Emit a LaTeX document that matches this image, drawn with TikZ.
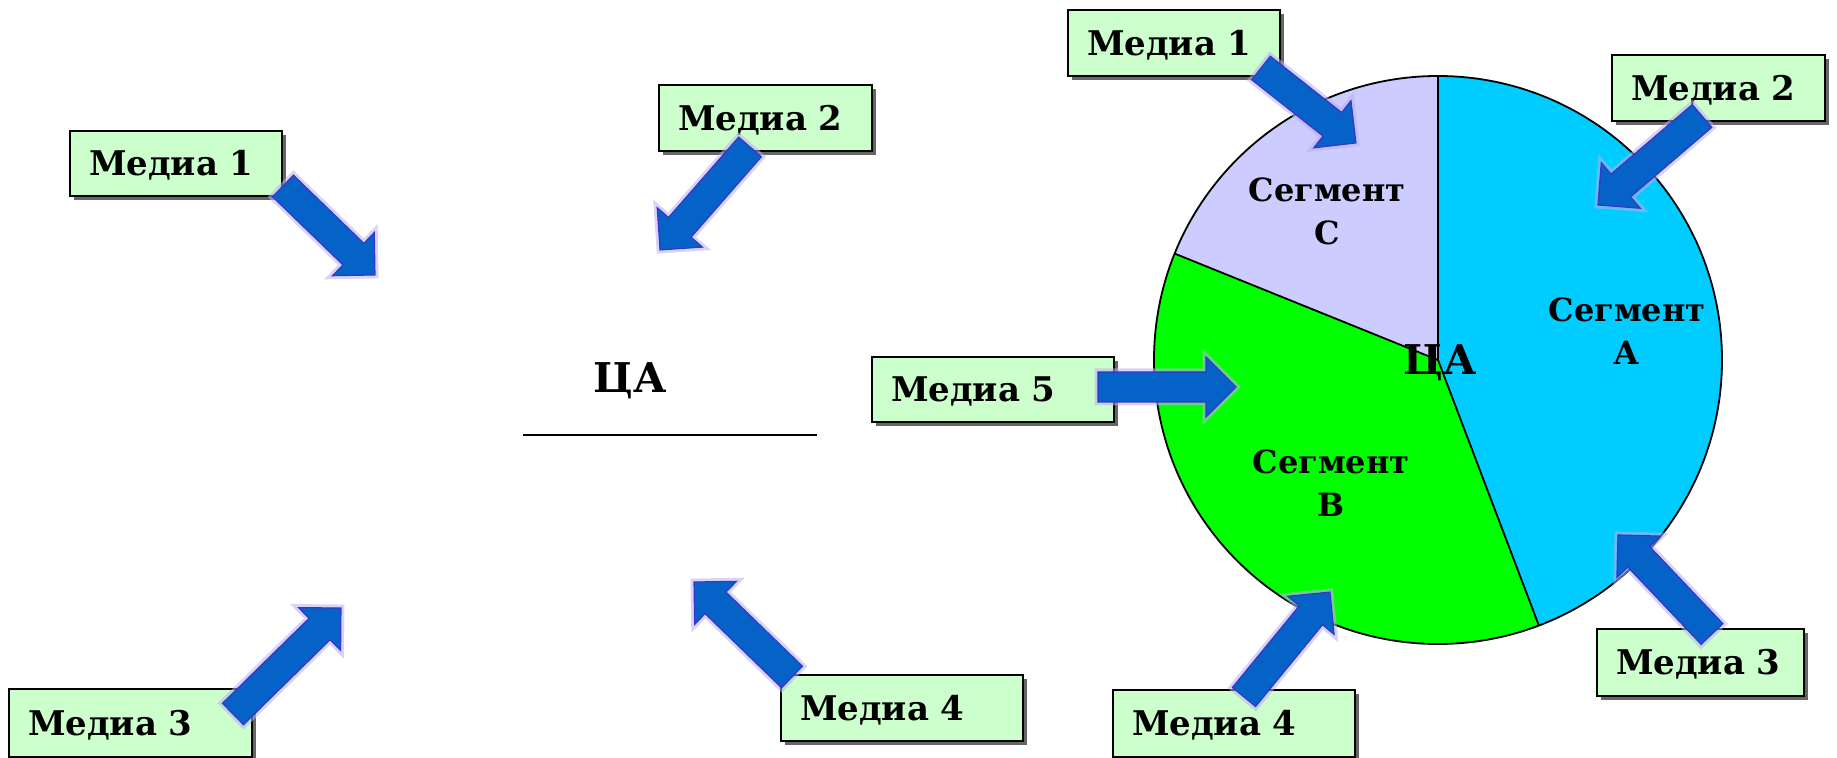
\documentclass[tikz,border=0pt]{standalone}
\usepackage{fontspec}
\setmainfont{DejaVu Serif}
\usetikzlibrary{calc,shadows}
\definecolor{boxfill}{HTML}{CCFFCC}
\definecolor{segA}{HTML}{00CCFF}
\definecolor{segB}{HTML}{00FF00}
\definecolor{segC}{HTML}{CCCCFF}
\definecolor{arrfill}{HTML}{0563C8}
\definecolor{arrline}{HTML}{3A33CC}
\definecolor{arrglow}{HTML}{B8B0F0}
\newcommand\mediaarrow[2]{%
  \path let \p1=($(#2)-(#1)$) in
    \pgfextra{\pgfmathsetmacro\tmpang{atan2(\y1,\x1)}\pgfmathsetmacro\tmplen{veclen(\x1,\y1)}%
      \xdef\arrang{\tmpang}\xdef\arrlen{\tmplen}};
  \filldraw[arrowbody, shift={(#1)}, rotate=\arrang]
    (0pt,-7.5pt) -- ({\arrlen pt-15pt},-7.5pt) -- ({\arrlen pt-15pt},-15pt) -- ({\arrlen pt},0pt)
    -- ({\arrlen pt-15pt},15pt) -- ({\arrlen pt-15pt},7.5pt) -- (0pt,7.5pt) -- cycle;
}
\begin{document}
\begin{tikzpicture}[x=0.5pt,y=-0.5pt,
  mbox/.style={draw=black, line width=1pt, fill=boxfill, inner xsep=9.5pt, inner ysep=0pt,
    align=left, text height=12.4pt, text depth=0pt,
    font=\fontsize{17}{20}\selectfont\bfseries,
    drop shadow={shadow xshift=2pt, shadow yshift=-2pt, opacity=0.6, fill=black}},
  arrowbody/.style={fill=arrfill, draw=arrline, line width=0.6pt, line join=miter,
    preaction={draw=arrglow, line width=3.5pt, draw opacity=0.55}},
  seglabel/.style={align=center, font=\fontsize{16}{21.5}\selectfont\bfseries},
  calabel/.style={font=\fontsize{20.5}{24}\selectfont\bfseries, inner sep=0pt},
  segment/.style={draw=black, line width=0.9pt}]
\useasboundingbox (0,0) rectangle (1837,758);

% ---- pie ----
\coordinate (pc) at (1438,360);
\fill[segA] (pc) -- ++(-90:284) arc[start angle=-90, end angle=69.2, radius=284] -- cycle;
\fill[segB] (pc) -- ++(69.2:284) arc[start angle=69.2, end angle=202, radius=284] -- cycle;
\fill[segC] (pc) -- ++(202:284) arc[start angle=202, end angle=270, radius=284] -- cycle;
\draw[segment] (pc) circle[radius=284];
\draw[segment] (pc) -- ++(-90:284);
\draw[segment] (pc) -- ++(69.2:284);
\draw[segment] (pc) -- ++(202:284);

\node[seglabel] (sa) at (1627,331) {Сегмент\\А};
\node[seglabel] (sc) at (1327,211) {Сегмент\\С};
\node[seglabel] (sb) at (1331,483) {Сегмент\\В};
\node[calabel, anchor=base] (ca2) at (1440,375) {ЦА};

% ---- left ЦА ----
\node[calabel, anchor=base] (ca1) at (630,393) {ЦА};
\coordinate (lineL) at (523,435);
\coordinate (lineR) at (817,435);
\draw[line width=0.8pt] (lineL) -- (lineR);

% ---- boxes ----
\node[mbox, text width=87pt,   minimum height=32.5pt] (L1) at (176,163.5) {Медиа 1};
\node[mbox, text width=87.5pt, minimum height=33pt]   (L2) at (765.5,118) {Медиа 2};
\node[mbox, text width=102.5pt,minimum height=34pt]   (L3) at (130.5,723) {Медиа 3};
\node[mbox, text width=102pt,  minimum height=33pt]   (L4) at (902,708) {Медиа 4};
\node[mbox, text width=87pt,   minimum height=33pt]   (R1) at (1174,43) {Медиа 1};
\node[mbox, text width=87.5pt, minimum height=33pt]   (R2) at (1718.5,88) {Медиа 2};
\node[mbox, text width=84.5pt, minimum height=33.5pt] (R3) at (1700.5,662.5) {Медиа 3};
\node[mbox, text width=102pt,  minimum height=33.5pt] (R4) at (1234,723.5) {Медиа 4};
\node[mbox, text width=102pt,  minimum height=32.5pt] (R5) at (993,389.5) {Медиа 5};

% ---- arrows ----
\coordinate (tL1) at (283,186);  \coordinate (hL1) at (375,275);
\coordinate (tL2) at (750,147);  \coordinate (hL2) at (660,250);
\coordinate (tL3) at (233,714);  \coordinate (hL3) at (341,608);
\coordinate (tL4) at (792,677);  \coordinate (hL4) at (694,582);
\coordinate (tR1) at (1261,68);  \coordinate (hR1) at (1356,143);
\coordinate (tR2) at (1702,116); \coordinate (hR2) at (1598,205);
\coordinate (tR3) at (1712,634); \coordinate (hR3) at (1618,535);
\coordinate (tR4) at (1244,697); \coordinate (hR4) at (1330,592);
\coordinate (tR5) at (1098,387); \coordinate (hR5) at (1236,387);
\mediaarrow{tL1}{hL1}
\mediaarrow{tL2}{hL2}
\mediaarrow{tL3}{hL3}
\mediaarrow{tL4}{hL4}
\mediaarrow{tR1}{hR1}
\mediaarrow{tR2}{hR2}
\mediaarrow{tR3}{hR3}
\mediaarrow{tR4}{hR4}
\mediaarrow{tR5}{hR5}
\end{tikzpicture}
\end{document}
